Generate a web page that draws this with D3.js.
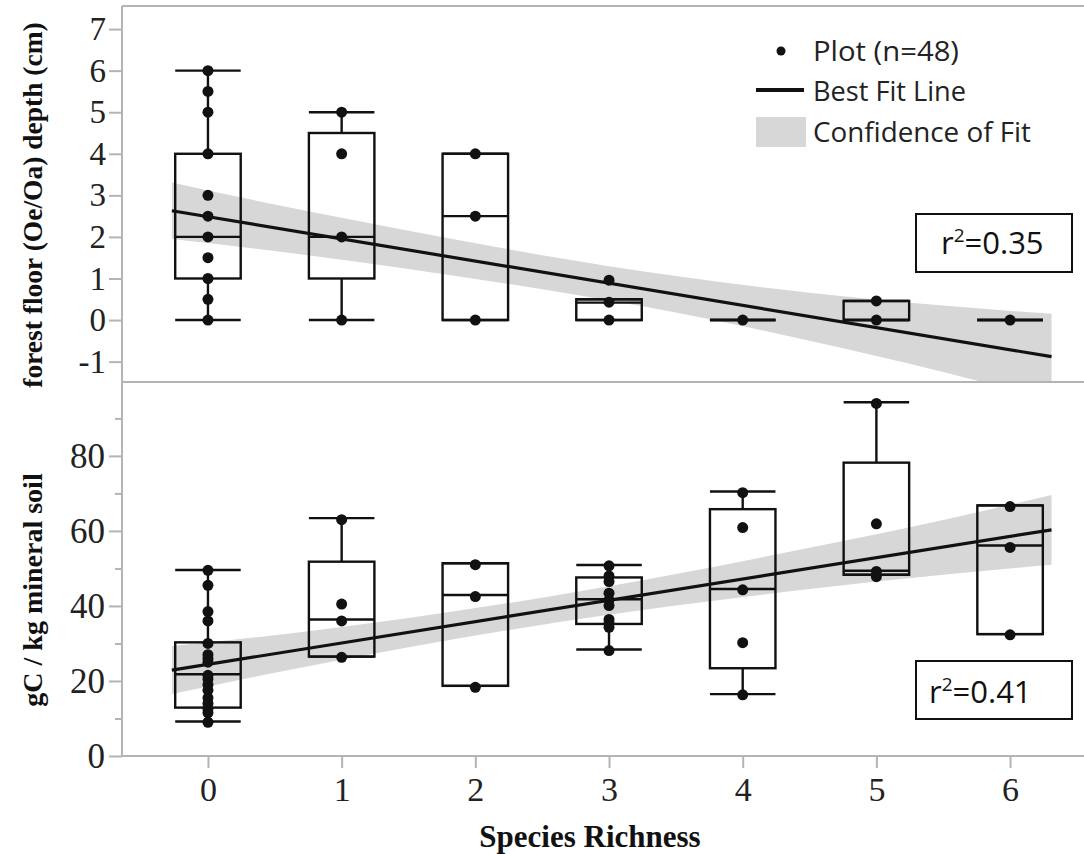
<!DOCTYPE html>
<html>
<head>
<meta charset="utf-8">
<script src="https://cdn.jsdelivr.net/npm/d3@7"></script>
<style>
  body { margin: 0; background: #fff; }
  svg { display: block; }
</style>
</head>
<body>
<div id="chart"></div>
<script>
// x categories
var richness = [0, 1, 2, 3, 4, 5, 6];
var xTicks = [0, 1, 2, 3, 4, 5, 6];
var depthTicks = [-1, 0, 1, 2, 3, 4, 5, 6, 7];
var carbonTicks = [0, 20, 40, 60, 80];
var carbonMinorTicks = [10, 30, 50, 70, 90];

// forest floor (Oe/Oa) depth, cm - box stats per richness
var depthLow  = [0, 0, 0, 0, 0, 0, 0];
var depthQ1   = [1, 1, 0, 0, 0, 0, 0];
var depthMed  = [2, 2, 2.5, 0.42, 0, 0, 0];
var depthQ3   = [4, 4.5, 4, 0.5, 0, 0.46, 0];
var depthHigh = [6, 5, 4, 0.5, 0, 0.46, 0];
var depthPoints = [
  [6, 5.5, 5, 4, 3, 2.5, 2, 1.5, 1, 0.5, 0],
  [5, 4, 2, 0],
  [4, 2.5, 0],
  [0.96, 0.43, 0],
  [0],
  [0.46, 0],
  [0]
];

// gC / kg mineral soil - box stats per richness
var carbonLow  = [9.2, 26.5, 18.7, 28.4, 16.5, 48.3, 32.5];
var carbonQ1   = [12.9, 26.5, 18.7, 35.2, 23.4, 48.3, 32.5];
var carbonMed  = [21.8, 36.4, 42.9, 41.8, 44.5, 49.4, 56.1];
var carbonQ3   = [30.3, 51.8, 51.4, 47.6, 65.8, 78.2, 66.8];
var carbonHigh = [49.6, 63.4, 51.4, 50.9, 70.5, 94.3, 66.8];
var carbonPoints = [
  [49.5, 45.5, 38.5, 36, 30, 27, 26, 25, 21.5, 20.5, 19, 17.5, 15.5, 14, 12.5, 11.5, 9],
  [63, 40.5, 36, 26.3],
  [51, 42.5, 18.3],
  [50.7, 48, 46.5, 43.4, 41.6, 40.1, 36.4, 35.4, 34.3, 28.1],
  [70.2, 60.9, 44.3, 30.2, 16.3],
  [94, 61.9, 49.2, 47.8],
  [66.5, 55.6, 32.3]
];

// best fit lines and confidence bands
var fitX = [-0.27, 6.31];
var depthFit = [2.63, -0.88];
var carbonFit = [22.9, 60.3];
var bandX = [-0.27, 0.5, 1.5, 2.5, 3.5, 4.5, 5.5, 6.31];
var depthUpper = [3.31, 2.78, 2.15, 1.56, 1.06, 0.66, 0.35, 0.15];
var depthLower = [1.95, 1.66, 1.23, 0.74, 0.18, -0.50, -1.25, -1.93];
var carbonUpper = [29.3, 32.2, 36.8, 42.2, 48.5, 55.5, 62.9, 69.6];
var carbonLower = [16.5, 22.2, 29.0, 35.0, 40.1, 44.5, 48.3, 51.0];

var legendLabels = ['Plot (n=48)', 'Best Fit Line', 'Confidence of Fit'];
var depthR2 = '0.35';
var carbonR2 = '0.41';

var W = 1084, H = 854;
var left = 122, right = 1084;
var top1 = 6, bot1 = 382, top2 = 382, bot2 = 756;

var svg = d3.select('#chart').append('svg')
    .attr('width', W)
    .attr('height', H);

var x = d3.scaleLinear().domain([-0.643, 6.553]).range([left, right]);
var y1 = d3.scaleLinear().domain([-1.49, 7.555]).range([bot1, top1]);
var y2 = d3.scaleLinear().domain([0, 99.7]).range([bot2, top2]);

var serif = '"Liberation Serif", "Times New Roman", serif';
var sans = '"Open Sans", "Noto Sans", sans-serif';
var gridGray = '#b4b4b4';
var ink = '#111';

var defs = svg.append('defs');
defs.append('clipPath').attr('id', 'clip1').append('rect')
    .attr('x', left).attr('y', top1).attr('width', right - left).attr('height', bot1 - top1);
defs.append('clipPath').attr('id', 'clip2').append('rect')
    .attr('x', left).attr('y', top2).attr('width', right - left).attr('height', bot2 - top2);

function drawPanel(y, clip, upper, lower, fit, low, q1, med, q3, high, points) {
    var g = svg.append('g');
    var band = bandX.map(function(d, i) { return {x: d, hi: upper[i], lo: lower[i]}; });
    var area = d3.area()
        .x(function(d) { return x(d.x); })
        .y0(function(d) { return y(d.lo); })
        .y1(function(d) { return y(d.hi); })
        .curve(d3.curveMonotoneX);
    g.append('path')
        .attr('clip-path', 'url(#' + clip + ')')
        .attr('d', area(band))
        .attr('fill', '#d7d7d7');

    var hw = 0.245;
    var boxes = g.selectAll('g.box').data(richness).enter().append('g').attr('class', 'box')
        .attr('stroke', ink).attr('stroke-width', 2.4);
    // whiskers outside the box only
    boxes.append('line')
        .attr('x1', function(d) { return x(d); }).attr('x2', function(d) { return x(d); })
        .attr('y1', function(d, i) { return y(high[i]); }).attr('y2', function(d, i) { return y(q3[i]); });
    boxes.append('line')
        .attr('x1', function(d) { return x(d); }).attr('x2', function(d) { return x(d); })
        .attr('y1', function(d, i) { return y(q1[i]); }).attr('y2', function(d, i) { return y(low[i]); });
    boxes.append('rect')
        .attr('x', function(d) { return x(d - hw); })
        .attr('width', function(d) { return x(d + hw) - x(d - hw); })
        .attr('y', function(d, i) { return y(q3[i]); })
        .attr('height', function(d, i) { return y(q1[i]) - y(q3[i]); })
        .attr('fill', 'none');
    [high, med, low].forEach(function(arr) {
        boxes.append('line')
            .attr('x1', function(d) { return x(d - hw); }).attr('x2', function(d) { return x(d + hw); })
            .attr('y1', function(d, i) { return y(arr[i]); }).attr('y2', function(d, i) { return y(arr[i]); });
    });

    g.append('line')
        .attr('clip-path', 'url(#' + clip + ')')
        .attr('x1', x(fitX[0])).attr('y1', y(fit[0]))
        .attr('x2', x(fitX[1])).attr('y2', y(fit[1]))
        .attr('stroke', ink).attr('stroke-width', 3.2);

    var pts = [];
    points.forEach(function(list, i) {
        list.forEach(function(v) { pts.push({x: richness[i], v: v}); });
    });
    g.selectAll('circle.pt').data(pts).enter().append('circle')
        .attr('class', 'pt')
        .attr('cx', function(d) { return x(d.x); })
        .attr('cy', function(d) { return y(d.v); })
        .attr('r', 5.5)
        .attr('fill', ink);
}

drawPanel(y1, 'clip1', depthUpper, depthLower, depthFit,
    depthLow, depthQ1, depthMed, depthQ3, depthHigh, depthPoints);
drawPanel(y2, 'clip2', carbonUpper, carbonLower, carbonFit,
    carbonLow, carbonQ1, carbonMed, carbonQ3, carbonHigh, carbonPoints);

// frames
var frame = svg.append('g').attr('stroke', gridGray).attr('stroke-width', 2).attr('fill', 'none');
frame.append('line').attr('x1', left).attr('x2', right).attr('y1', top1).attr('y2', top1);
frame.append('line').attr('x1', left).attr('x2', right).attr('y1', bot1).attr('y2', bot1);
frame.append('line').attr('x1', left).attr('x2', right).attr('y1', bot2).attr('y2', bot2);
frame.append('line').attr('x1', left).attr('x2', left).attr('y1', top1).attr('y2', bot2);

// axes
function styleAxis(g, size) {
    g.select('.domain').remove();
    g.selectAll('.tick line').attr('stroke', gridGray).attr('stroke-width', 2);
    g.selectAll('.tick text')
        .attr('fill', '#222')
        .style('font-family', serif)
        .style('font-size', size + 'px');
}

var ay1 = svg.append('g').attr('transform', 'translate(' + left + ',0)')
    .call(d3.axisLeft(y1).tickValues(depthTicks).tickSize(13).tickPadding(3)
        .tickFormat(function(d) { return String(d); }));
styleAxis(ay1, 33);

var ay2 = svg.append('g').attr('transform', 'translate(' + left + ',0)')
    .call(d3.axisLeft(y2).tickValues(carbonTicks).tickSize(13).tickPadding(4)
        .tickFormat(function(d) { return String(d); }));
styleAxis(ay2, 35);

var ay2m = svg.append('g').attr('transform', 'translate(' + left + ',0)')
    .call(d3.axisLeft(y2).tickValues(carbonMinorTicks).tickSize(7).tickFormat(''));
styleAxis(ay2m, 10);

var ax = svg.append('g').attr('transform', 'translate(0,' + bot2 + ')')
    .call(d3.axisBottom(x).tickValues(xTicks).tickSize(12).tickPadding(9)
        .tickFormat(function(d) { return String(d); }));
styleAxis(ax, 34);

// axis titles
svg.append('text')
    .attr('x', 590).attr('y', 847)
    .attr('text-anchor', 'middle')
    .style('font-family', serif).style('font-weight', 'bold').style('font-size', '31px')
    .attr('fill', ink)
    .text('Species Richness');

svg.append('text')
    .attr('transform', 'translate(42,' + 205 + ') rotate(-90)')
    .attr('text-anchor', 'middle')
    .style('font-family', serif).style('font-weight', 'bold').style('font-size', '27.5px')
    .attr('fill', ink)
    .text('forest floor (Oe/Oa) depth (cm)');

svg.append('text')
    .attr('transform', 'translate(42,' + 590 + ') rotate(-90)')
    .attr('text-anchor', 'middle')
    .style('font-family', serif).style('font-weight', 'bold').style('font-size', '28px')
    .attr('fill', ink)
    .text('gC / kg mineral soil');

// legend
var lg = svg.append('g');
lg.append('circle').attr('cx', 781).attr('cy', 51).attr('r', 4.5).attr('fill', ink);
lg.append('line').attr('x1', 756).attr('x2', 804).attr('y1', 90).attr('y2', 90)
    .attr('stroke', ink).attr('stroke-width', 4);
lg.append('rect').attr('x', 756).attr('y', 117).attr('width', 50).attr('height', 30)
    .attr('fill', '#d7d7d7');
var legendY = [61, 101, 142];
var legendW = [146, 153, 218];
legendLabels.forEach(function(t, i) {
    lg.append('text')
        .attr('x', 813).attr('y', legendY[i])
        .attr('textLength', legendW[i]).attr('lengthAdjust', 'spacingAndGlyphs')
        .style('font-family', sans).style('font-size', '27px')
        .attr('fill', '#222')
        .text(t);
});

// r^2 boxes
function r2Box(bx, by, tx, ty, val) {
    svg.append('rect').attr('x', bx).attr('y', by).attr('width', 156).attr('height', 58)
        .attr('fill', '#fff').attr('stroke', ink).attr('stroke-width', 2);
    var t = svg.append('text').attr('x', tx).attr('y', ty)
        .style('font-family', sans).style('font-size', '31px').attr('fill', ink);
    t.append('tspan').text('r');
    t.append('tspan').attr('dy', -12).style('font-size', '19px').text('2');
    t.append('tspan').attr('dy', 12).text('=' + val);
}
r2Box(916, 214, 941, 254, depthR2);
r2Box(916, 661, 929, 703, carbonR2);
</script>
</body>
</html>
